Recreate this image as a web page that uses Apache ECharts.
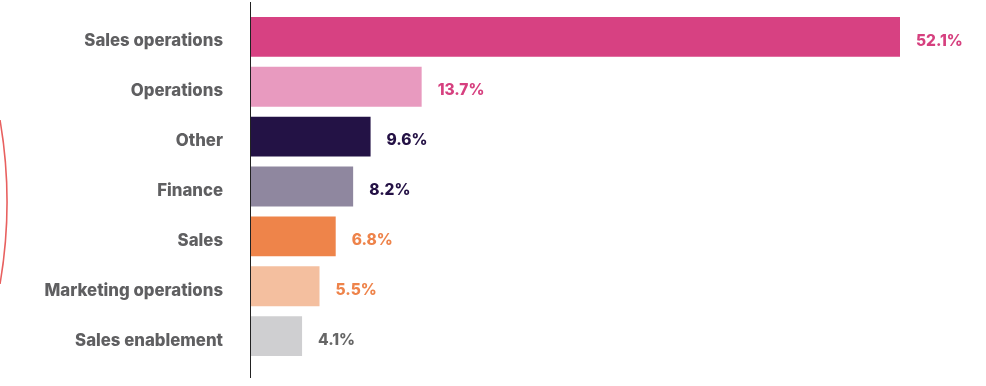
<!DOCTYPE html>
<html><head><meta charset="utf-8">
<script src="https://cdn.jsdelivr.net/npm/echarts@6/dist/echarts.min.js"></script>
<style>html,body{margin:0;padding:0;background:#fff}#c{width:986px;height:386px}</style>
</head><body><div id="c"></div>
<script>
const categories = ["Sales operations","Operations","Other","Finance","Sales","Marketing operations","Sales enablement"];
const values = [52.1, 13.7, 9.6, 8.2, 6.8, 5.5, 4.1];
const barColors = ["#d74182","#e89abf","#231245","#8f879f","#ee844a","#f4bf9f","#cfcfd1"];
const labelColors = ["#d6407f","#d6407f","#231044","#231044","#ee834a","#ee834a","#666666"];

const chart = echarts.init(document.getElementById('c'));
chart.setOption({
  animation:false,
  grid:{left:251,right:86,top:12,height:349,containLabel:false},
  xAxis:{type:'value',min:0,max:52.1,show:false},
  yAxis:{type:'category',data:categories,inverse:true,
    axisLine:{show:false},axisTick:{show:false},
    axisLabel:{margin:28,formatter:v=>'{a|'+v+'}',
      rich:{a:{color:'#5f5f61',fontFamily:'Inter',fontWeight:800,fontSize:16.8,padding:[9,0,0,0]}}}},
  series:[{type:'bar',barCategoryGap:'20%',
    data:values.map((v,i)=>({value:v,itemStyle:{color:barColors[i]},
      label:{color:labelColors[i]}})),
    label:{show:true,position:'right',distance:16,offset:[0,4],fontFamily:'Inter',fontWeight:800,fontSize:15.5,
      formatter:p=>p.value.toFixed(1)+'%'}}],
  graphic:[
    {type:'line',shape:{x1:250.5,y1:2,x2:250.5,y2:378},style:{stroke:'#222',lineWidth:1}},
    {type:'arc',shape:{cx:-477,cy:202,r:484,startAngle:-0.17,endAngle:0.17},
      style:{stroke:'#e8605f',lineWidth:1.6,fill:null}}
  ]
});
</script></body></html>
